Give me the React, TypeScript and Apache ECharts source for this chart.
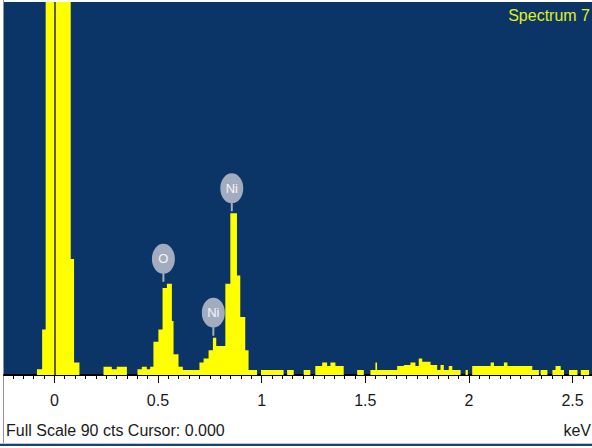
import React, { useEffect, useRef } from 'react';
import * as echarts from 'echarts';

// Spectrum histogram: bin start energies (keV) and counts per bin
const binStarts = [
  -0.243, -0.084, -0.059, -0.042, 0.079, 0.095, 0.121, 0.237, 0.277, 0.301,
  0.35, 0.401, 0.422, 0.446, 0.462, 0.478, 0.502, 0.522, 0.543, 0.567,
  0.575, 0.599, 0.62, 0.7, 0.72, 0.744, 0.765, 0.781, 0.825, 0.849,
  0.881, 0.897, 0.921, 0.937, 0.978, 0.997, 1.106, 1.123, 1.155, 1.203,
  1.235, 1.259, 1.292, 1.316, 1.332, 1.356, 1.396, 1.461, 1.493, 1.525,
  1.549, 1.557, 1.654, 1.686, 1.718, 1.742, 1.758, 1.775, 1.815, 1.847,
  1.863, 1.879, 1.903, 1.92, 1.96, 1.984, 1.995, 2.016, 2.105, 2.121,
  2.169, 2.186, 2.306, 2.338, 2.346, 2.379, 2.403, 2.418, 2.443, 2.459,
  2.483, 2.524, 2.54, 2.58,
];
const counts = [
  0, 1.4, 11, 300, 28, 3, 0, 2, 1.4, 2,
  0, 1.4, 2, 1.4, 2, 8, 11, 21, 22, 13,
  5, 2, 1.2, 3, 4, 6, 9, 7, 22, 39,
  24, 14, 6, 1.2, 0, 1.2, 0, 1.2, 0, 1.2,
  0, 2.2, 3, 2.2, 3, 2.2, 0, 1.2, 0, 1.2,
  3, 1.2, 2.2, 2.4, 3, 2.2, 4, 3.2, 2.4, 1.2,
  2.4, 1.2, 2.2, 1.2, 0, 1.2, 0, 2.2, 3, 2.2,
  3, 2.2, 1.2, 0, 1.2, 0, 1.2, 2.2, 1.2, 0,
  1.2, 0, 1.2, 0,
];

const majorTicks = [0, 0.5, 1, 1.5, 2, 2.5];
const tickLabels = ['0', '0.5', '1', '1.5', '2', '2.5'];

const peakNames = ['O', 'Ni', 'Ni'];
const peakEnergies = [0.526, 0.767, 0.856];
const peakCounts = [22, 9, 39];

const X_MIN = -0.243;
const X_MAX = 2.594;
const Y_MAX = 90;
const MINOR_STEP = 0.05;

const FONT = "'Liberation Sans', Arial, sans-serif";

export default function App() {
  const ref = useRef<HTMLDivElement>(null);

  useEffect(() => {
    if (!ref.current) return;
    const chart = echarts.init(ref.current, undefined, { renderer: 'svg' });

    const minorTicks: number[] = [];
    for (let k = Math.ceil(X_MIN / MINOR_STEP); k * MINOR_STEP <= X_MAX; k++) {
      minorTicks.push(Math.round(k * MINOR_STEP * 1000) / 1000);
    }

    const data = binStarts.map((x, i) => [x, counts[i]]);

    chart.setOption({
      animation: false,
      backgroundColor: '#ffffff',
      grid: {
        left: 4,
        top: 2,
        right: 0,
        bottom: 73,
        show: true,
        backgroundColor: '#0a3566',
        borderWidth: 0,
      },
      xAxis: [
        {
          type: 'value',
          min: X_MIN,
          max: X_MAX,
          position: 'bottom',
          splitLine: { show: false },
          axisLine: { show: true, onZero: false, lineStyle: { color: '#000000', width: 2 } },
          axisTick: {
            show: true,
            inside: false,
            length: 8,
            customValues: majorTicks,
            lineStyle: { color: '#000000', width: 1 },
          },
          axisLabel: {
            show: true,
            customValues: majorTicks,
            margin: 17,
            color: '#1a1a1a',
            fontSize: 16,
            fontFamily: FONT,
            formatter: (v: number) => {
              const i = majorTicks.findIndex((t) => Math.abs(t - v) < 1e-6);
              return i >= 0 ? tickLabels[i] : '';
            },
          },
        },
        {
          type: 'value',
          min: X_MIN,
          max: X_MAX,
          position: 'bottom',
          offset: 0,
          splitLine: { show: false },
          axisLine: { show: false },
          axisLabel: { show: false },
          axisTick: {
            show: true,
            inside: false,
            length: 4,
            customValues: minorTicks,
            lineStyle: { color: '#000000', width: 1 },
          },
        },
      ],
      yAxis: {
        type: 'value',
        min: 0,
        max: Y_MAX,
        show: false,
        splitLine: { show: false },
      },
      series: [
        {
          type: 'line',
          xAxisIndex: 0,
          step: 'end',
          data,
          symbol: 'none',
          clip: true,
          lineStyle: { width: 0, color: '#ffff00' },
          areaStyle: { color: '#ffff00', opacity: 1 },
          silent: true,
          markLine: {
            silent: true,
            symbol: ['none', 'none'],
            label: { show: false },
            lineStyle: { color: '#2b2b2b', width: 1.5, type: 'solid' },
            data: [{ xAxis: 0 }],
          },
          markPoint: {
            silent: true,
            symbol:
              'path://M0 15 A11.5 15 0 1 1 23 15 A11.5 15 0 1 1 0 15 Z M10.5 29 L12.5 29 L12.5 38 L10.5 38 Z',
            symbolSize: [23, 38],
            symbolOffset: [0, -21],
            itemStyle: { color: '#a3acbf' },
            label: {
              show: true,
              position: 'inside',
              offset: [0, -4],
              color: '#f4f6fb',
              fontSize: 13,
              fontFamily: FONT,
              formatter: '{b}',
            },
            data: peakNames.map((n, i) => ({
              name: n,
              coord: [peakEnergies[i], peakCounts[i]],
            })),
          },
        },
      ],
      graphic: [
        {
          type: 'line',
          silent: true,
          shape: { x1: 3.5, y1: 0, x2: 3.5, y2: 446 },
          style: { stroke: '#8a95ab', lineWidth: 1 },
        },
        {
          type: 'line',
          silent: true,
          shape: { x1: 0, y1: 443.5, x2: 592, y2: 443.5 },
          style: { stroke: '#b9c4d8', lineWidth: 1 },
        },
        {
          type: 'rect',
          silent: true,
          shape: { x: 0, y: 444, width: 592, height: 2 },
          style: { fill: '#1f3f70' },
        },
        {
          type: 'text',
          silent: true,
          x: 6,
          y: 430,
          style: {
            text: 'Full Scale 90 cts Cursor: 0.000',
            fill: '#1a1a1a',
            fontSize: 16,
            fontFamily: FONT,
            align: 'left',
            textAlign: 'left',
            verticalAlign: 'middle',
            textVerticalAlign: 'middle',
          },
        },
        {
          type: 'text',
          silent: true,
          x: 591,
          y: 430,
          style: {
            text: 'keV',
            fill: '#1a1a1a',
            fontSize: 16,
            fontFamily: FONT,
            align: 'right',
            textAlign: 'right',
            verticalAlign: 'middle',
            textVerticalAlign: 'middle',
          },
        },
        {
          type: 'text',
          silent: true,
          x: 590,
          y: 15,
          z: 10,
          style: {
            text: 'Spectrum 7',
            fill: '#e2f01c',
            fontSize: 16,
            fontFamily: FONT,
            align: 'right',
            textAlign: 'right',
            verticalAlign: 'middle',
            textVerticalAlign: 'middle',
          },
        },
      ],
    });

    return () => {
      chart.dispose();
    };
  }, []);

  return (
    <div
      ref={ref}
      style={{ position: 'fixed', left: 0, top: 0, width: 592, height: 448, background: '#fff' }}
    />
  );
}
